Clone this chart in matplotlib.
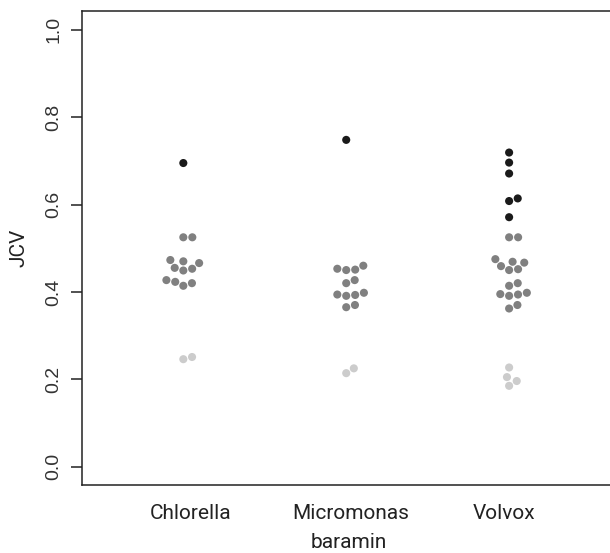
import numpy as np
import matplotlib
matplotlib.use('Agg')
import matplotlib.pyplot as plt
import matplotlib.transforms as mtransforms

# data: JCV values per baramin, with a class per point
categories = ['Chlorella', 'Micromonas', 'Volvox']

chlorella_jcv = [0.695, 0.525, 0.525, 0.473, 0.470, 0.466, 0.453, 0.449, 0.455,
                 0.427, 0.423, 0.414, 0.420, 0.246, 0.251]
chlorella_cls = ['hi', 'mid', 'mid', 'mid', 'mid', 'mid', 'mid', 'mid', 'mid',
                 'mid', 'mid', 'mid', 'mid', 'lo', 'lo']

micromonas_jcv = [0.748, 0.453, 0.450, 0.451, 0.460, 0.420, 0.427, 0.398, 0.393,
                  0.391, 0.394, 0.365, 0.370, 0.214, 0.225]
micromonas_cls = ['hi', 'mid', 'mid', 'mid', 'mid', 'mid', 'mid', 'mid', 'mid',
                  'mid', 'mid', 'mid', 'mid', 'lo', 'lo']

volvox_jcv = [0.719, 0.696, 0.671, 0.608, 0.614, 0.571,
              0.525, 0.525, 0.475, 0.459, 0.467, 0.469, 0.450, 0.452,
              0.414, 0.420, 0.398, 0.395, 0.391, 0.394, 0.362, 0.370,
              0.227, 0.205, 0.185, 0.196]
volvox_cls = ['hi'] * 6 + ['mid'] * 16 + ['lo'] * 4

groups = [(chlorella_jcv, chlorella_cls),
          (micromonas_jcv, micromonas_cls),
          (volvox_jcv, volvox_cls)]

colors = {'hi': '#1a1a1a', 'mid': '#808080', 'lo': '#cccccc'}

W, H = 610, 553
fig = plt.figure(figsize=(W / 100, H / 100), dpi=100)
ax = fig.add_axes([82 / W, (H - 485) / H, (615 - 82) / W, (485 - 11) / H])

xlim = (0.378, 3.650)
ylim = (-0.042, 1.043)
ax.set_xlim(*xlim)
ax.set_ylim(*ylim)

# pixel scales, used for the swarm layout
px_x = (615 - 82) / (xlim[1] - xlim[0])
px_y = (485 - 11) / (ylim[1] - ylim[0])
diam = 9.0  # point spacing in pixels


def swarm(vals):
    # R beeswarm 'swarm' method, ascending priority
    ys = np.asarray(vals) * px_y
    order = np.argsort(ys, kind='stable')
    xs = np.zeros(len(ys))
    placed = []
    for i in order:
        near = [j for j in placed if abs(ys[j] - ys[i]) < diam]
        offs = [np.sqrt(diam ** 2 - (ys[j] - ys[i]) ** 2) for j in near]
        cands = [0.0] + [xs[j] + d for j, d in zip(near, offs)] + \
                [xs[j] - d for j, d in zip(near, offs)]
        ok = [c for c in cands
              if all(np.hypot(c - xs[j], ys[i] - ys[j]) >= diam * 0.9995 for j in near)]
        xs[i] = min(ok, key=abs)
        placed.append(i)
    return xs / px_x


for k, (vals, cls) in enumerate(groups):
    offs = swarm(vals)
    ax.scatter(k + 1 + offs, vals, s=34, c=[colors[c] for c in cls],
               linewidths=0, zorder=3)

ax.spines['right'].set_visible(False)
for side in ['left', 'top', 'bottom']:
    ax.spines[side].set_linewidth(1.1)
    ax.spines[side].set_color('#222222')

ax.set_yticks([0.0, 0.2, 0.4, 0.6, 0.8, 1.0])
ax.set_yticklabels(['0.0', '0.2', '0.4', '0.6', '0.8', '1.0'],
                   rotation=90, va='center', family='Liberation Sans',
                   fontsize=14, color='#333333')
ax.tick_params(axis='y', length=8, width=1.1, color='#222222', pad=6)

ax.set_xticks([1, 2, 3])
ax.set_xticklabels(categories, family='Roboto', fontsize=15, color='#222222')
ax.tick_params(axis='x', length=0, pad=14)
nudges = [7, 4, -5]
for lab, dx in zip(ax.get_xticklabels(), nudges):
    lab.set_transform(lab.get_transform() +
                      mtransforms.ScaledTranslation(dx / 100, 0, fig.dpi_scale_trans))

ax.set_ylabel('JCV', family='Roboto', fontsize=15, color='#222222', labelpad=12)
ax.set_xlabel('baramin', family='Roboto', fontsize=15, color='#222222', labelpad=7)

fig.savefig('out.png', dpi=100)
